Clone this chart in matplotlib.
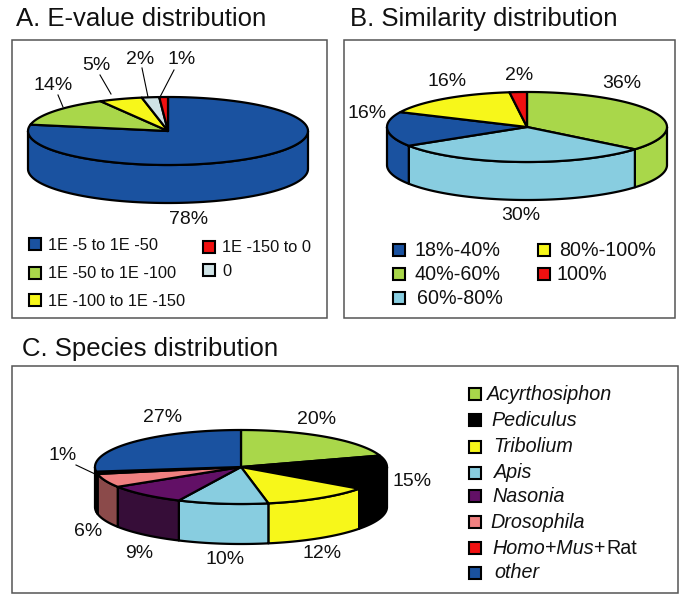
import numpy as np
import matplotlib
matplotlib.use("Agg")
import matplotlib.pyplot as plt
from matplotlib.patches import Polygon, Rectangle

plt.rcParams["font.family"] = ["Liberation Sans", "DejaVu Sans"]

BLUE = "#1a52a0"
GREEN = "#a9d74a"
YELLOW = "#f7f71a"
LIGHTBLUE = "#88cde0"
RED = "#f01010"
PALE = "#cfe3e6"
BLACK = "#000000"
PURPLE = "#621066"
PINK = "#f08080"

# panel A
evalue_labels = ["1E -5 to 1E -50", "1E -50 to 1E -100", "1E -100 to 1E -150", "0", "1E -150 to 0"]
evalue_values = [78, 14, 5, 2, 1]
evalue_colors = [BLUE, GREEN, YELLOW, PALE, RED]

# panel B
similarity_labels = ["40%-60%", "60%-80%", "18%-40%", "80%-100%", "100%"]
similarity_values = [36, 30, 16, 16, 2]
similarity_colors = [GREEN, LIGHTBLUE, BLUE, YELLOW, RED]

# panel C
species_labels = ["Acyrthosiphon", "Pediculus", "Tribolium", "Apis", "Nasonia",
                  "Drosophila", "Homo+Mus+", "other"]
species_values = [20, 15, 12, 10, 9, 6, 1, 27]
species_colors = [GREEN, BLACK, YELLOW, LIGHTBLUE, PURPLE, PINK, RED, BLUE]
species_sides = [GREEN, BLACK, YELLOW, LIGHTBLUE, "#360d38", "#8b4a4a", RED, BLUE]


def pie3d(ax, values, colors, cx, cy, rx, ry, depth, sides=None):
    sides = sides or colors
    edges = np.cumsum([0] + list(values)) / sum(values) * 2 * np.pi

    def rim(t, dy=0):
        return np.column_stack([cx + rx * np.sin(t), cy + dy - ry * np.cos(t)])

    # walls first, only the front half is visible
    for i, side in enumerate(sides):
        a, b = max(edges[i], np.pi / 2), min(edges[i + 1], 3 * np.pi / 2)
        if b <= a:
            continue
        t = np.linspace(a, b, 80)
        pts = np.vstack([rim(t), rim(t[::-1], depth)])
        ax.add_patch(Polygon(pts, fc=side, ec="black", lw=1.6, joinstyle="round"))

    for i, col in enumerate(colors):
        t = np.linspace(edges[i], edges[i + 1], 120)
        pts = np.vstack([[cx, cy], rim(t)])
        ax.add_patch(Polygon(pts, fc=col, ec="black", lw=1.6, joinstyle="round"))


def swatch(ax, x, y, col, size=12):
    ax.add_patch(Rectangle((x - size / 2, y - size / 2), size, size, fc=col, ec="black", lw=1.5))


fig = plt.figure(figsize=(6.85, 5.99), dpi=100)
ax = fig.add_axes([0, 0, 1, 1])
ax.set_xlim(0, 685)
ax.set_ylim(599, 0)
ax.axis("off")

for x, y, w, h in [(12, 40, 315, 278), (344, 40, 331, 278), (12, 366, 666, 227)]:
    ax.add_patch(Rectangle((x, y), w, h, fc="white", ec="#555555", lw=1.1))

ax.text(16, 19, "A. E-value distribution", fontsize=18.5, va="center", color="#111111")
ax.text(350, 19, "B. Similarity distribution", fontsize=18.5, va="center", color="#111111")
ax.text(22, 349, "C. Species distribution", fontsize=18.5, va="center", color="#111111")

pie3d(ax, evalue_values, evalue_colors, 168, 131, 140, 34, 38)
pie3d(ax, similarity_values, similarity_colors, 527, 127, 140, 35, 38)
pie3d(ax, species_values, species_colors, 241, 467, 146, 37, 40, sides=species_sides)

# percent labels
for val, x, y in zip(evalue_values, [189, 53, 96, 140, 182], [219, 85, 66, 60, 59]):
    ax.text(x, y, f"{val}%", fontsize=14, ha="center", va="center", color="#111111")
for val, x, y in zip(similarity_values, [622, 521, 367, 447, 519], [84, 216, 114, 82, 75]):
    ax.text(x, y, f"{val}%", fontsize=14, ha="center", va="center", color="#111111")
for val, x, y in zip(species_values, [317, 412, 322, 225, 139, 88, 63, 163],
                     [419, 481, 554, 559, 553, 531, 456, 418]):
    ax.text(x, y, f"{val}%", fontsize=14, ha="center", va="center", color="#111111")

# leader lines
for xs, ys in [((58, 63), (95, 107)), ((100, 111), (75, 94)), ((142, 148), (68, 97)),
               ((174, 160), (70, 97)), ((76, 95), (465, 474))]:
    ax.plot(xs, ys, color="black", lw=0.8)

# legends
for lab, col, sx, sy, tx, ty in zip(evalue_labels, evalue_colors,
                                    [35, 35, 35, 209, 209], [244, 273, 300, 270, 247],
                                    [48, 48, 48, 222, 222], [245, 273, 301, 271, 247]):
    swatch(ax, sx, sy, col)
    ax.text(tx, ty, lab, fontsize=11.8, va="center", color="#111111")

for lab, col, sx, sy, tx in zip(similarity_labels, similarity_colors,
                                [399, 399, 399, 544, 544], [274, 298, 250, 250, 274],
                                [415, 417, 415, 559, 557]):
    swatch(ax, sx, sy, col)
    ax.text(tx, sy + 1, lab, fontsize=14.2, va="center", color="#111111")

for lab, col, sy, tx in zip(species_labels, species_colors,
                            [394, 420, 447, 473, 496, 522, 548, 573],
                            [487, 491, 493, 494, 492, 490, 492, 494]):
    swatch(ax, 475, sy, col)
    ax.text(tx, sy, lab, fontsize=14.2, style="italic", va="center", color="#111111")
ax.text(606, 548, "Rat", fontsize=14.2, va="center", color="#111111")

fig.savefig("out.png", dpi=100)
